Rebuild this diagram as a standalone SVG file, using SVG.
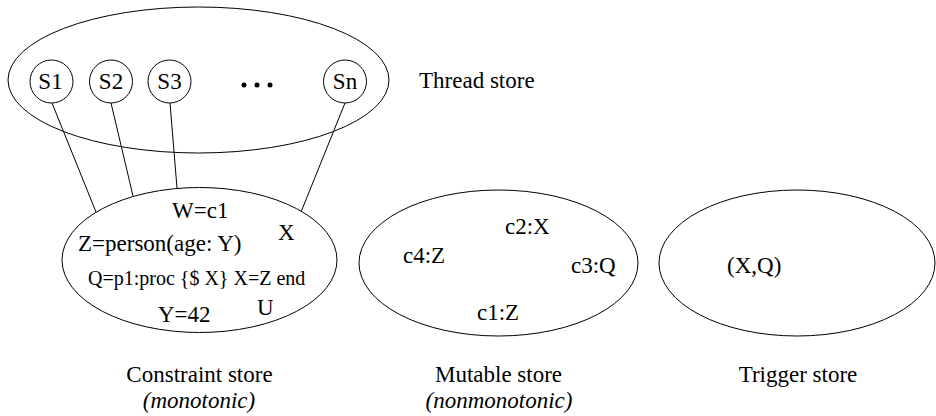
<svg xmlns="http://www.w3.org/2000/svg" width="936" height="416" viewBox="0 0 936 416" font-family="'Liberation Serif', 'DejaVu Serif', serif">
<style>
.sh{fill:none;stroke:#000;stroke-width:1}
.t{font-family:'Liberation Serif','DejaVu Serif',serif;font-size:23px;fill:#000}
.m{text-anchor:middle}
.i{font-style:italic}
.s{font-size:20px}
</style>
<rect width="936" height="416" fill="#fff"/>
<g id="connectors">
<line class="sh" x1="52" y1="103" x2="96" y2="212"/>
<line class="sh" x1="111" y1="103" x2="133" y2="196"/>
<line class="sh" x1="170" y1="103" x2="177" y2="188"/>
<line class="sh" x1="345" y1="103" x2="301" y2="212"/>
</g>
<g id="thread-store">
<ellipse class="sh" cx="198.5" cy="80" rx="190.5" ry="73"/>
<text class="t" x="419" y="88">Thread store</text>
</g>
<g id="S1"><circle class="sh" cx="51.5" cy="81.5" r="21.5"/><text class="t m" x="50.5" y="89">S1</text></g>
<g id="S2"><circle class="sh" cx="111" cy="81.5" r="21.5"/><text class="t m" x="111" y="89">S2</text></g>
<g id="S3"><circle class="sh" cx="169.5" cy="81.5" r="21.5"/><text class="t m" x="169.5" y="89">S3</text></g>
<g id="dots"><circle cx="244" cy="85" r="2.5"/><circle cx="257" cy="85" r="2.5"/><circle cx="270" cy="85" r="2.5"/></g>
<g id="Sn"><circle class="sh" cx="345" cy="81.5" r="21.5"/><text class="t m" x="345" y="89">Sn</text></g>
<g id="constraint-store">
<ellipse class="sh" cx="199.5" cy="260" rx="137.5" ry="72.5"/>
<text class="t" x="172" y="218">W=c1</text>
<text class="t" x="78" y="251">Z=person(age: Y)</text>
<text class="t" x="278" y="240">X</text>
<text class="t s" x="88" y="285">Q=p1:proc {$ X} X=Z end</text>
<text class="t" x="158" y="322">Y=42</text>
<text class="t" x="257" y="315">U</text>
<text class="t m" x="199.5" y="382">Constraint store</text>
<text class="t m i" x="199" y="408">(monotonic)</text>
</g>
<g id="mutable-store">
<ellipse class="sh" cx="498.5" cy="263" rx="139.5" ry="73"/>
<text class="t" x="505" y="234">c2:X</text>
<text class="t" x="403" y="263">c4:Z</text>
<text class="t" x="571" y="273">c3:Q</text>
<text class="t" x="477" y="320">c1:Z</text>
<text class="t m" x="498.5" y="382">Mutable store</text>
<text class="t m i" x="499" y="408">(nonmonotonic)</text>
</g>
<g id="trigger-store">
<ellipse class="sh" cx="797" cy="263" rx="138" ry="73"/>
<text class="t" x="727" y="273">(X,Q)</text>
<text class="t m" x="798" y="382">Trigger store</text>
</g>
</svg>
